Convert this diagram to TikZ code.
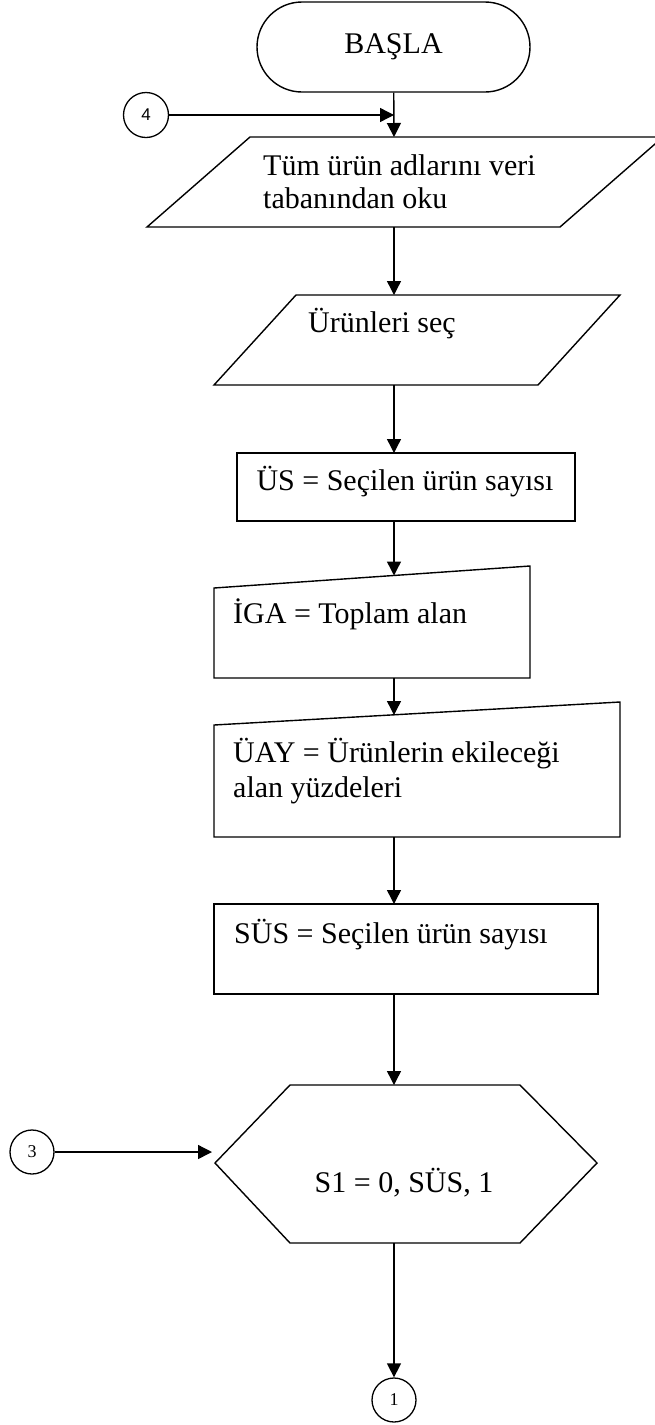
\documentclass[tikz,border=0pt]{standalone}
\usepackage{fontspec}
\setmainfont{Liberation Serif}
\newfontfamily\arialf{Liberation Sans}
\usetikzlibrary{arrows.meta}
\tikzset{
  shp/.style={draw, line width=1.4pt, line join=miter},
  arr/.style={-{Triangle[length=14pt,width=14pt]}, line width=1.4pt},
  conn/.style={circle, draw, line width=1.3pt, minimum size=45pt, inner sep=0pt},
  txt/.style={font=\fontsize{30}{34.5}\selectfont, anchor=base west, inner sep=0pt},
  ctxt/.style={font=\fontsize{30}{34.5}\selectfont, anchor=base, inner sep=0pt}
}
\begin{document}
\begin{tikzpicture}[x=1pt,y=-1pt]
\useasboundingbox (0,0) rectangle (654,1425);
% start
\node[shp, rounded corners=45pt, minimum width=273pt, minimum height=90pt, inner sep=0pt,
      font=\fontsize{30}{34.5}\selectfont] (basla) at (393.5,47) {BAŞLA};
% connector 4
\node[conn, font=\arialf\fontsize{17}{20}\selectfont] (c4) at (146,115) {4};
\coordinate (j4) at (394,115);
% parallelogram 1
\draw[shp] (250,137) -- (663,137) -- (560,227) -- (147,227) -- cycle;
\coordinate (p1t) at (394,137);
\coordinate (p1b) at (394,227);
\node[txt] (t1a) at (263,175) {Tüm ürün adlarını veri};
\node[txt] (t1b) at (263,208) {tabanından oku};
% parallelogram 2
\draw[shp] (296,295) -- (620,295) -- (538,385) -- (214,385) -- cycle;
\coordinate (p2t) at (394,295);
\coordinate (p2b) at (394,385);
\node[txt] (t2) at (308,332) {Ürünleri seç};
% rectangle US
\draw[shp] (237,453) rectangle (575,521);
\coordinate (ust) at (394,453);
\coordinate (usb) at (394,521);
\node[ctxt] (t3) at (405,490) {ÜS = Seçilen ürün sayısı};
% manual input IGA
\draw[shp] (214,588) -- (530,566) -- (530,678) -- (214,678) -- cycle;
\coordinate (igat) at (394,575.5);
\coordinate (igab) at (394,678);
\node[txt] (t4) at (233,623) {İGA = Toplam alan};
% manual input UAY
\draw[shp] (214,725) -- (620,702) -- (620,837) -- (214,837) -- cycle;
\coordinate (uayt) at (394,715);
\coordinate (uayb) at (394,837);
\node[txt] (t5a) at (233,762) {ÜAY = Ürünlerin ekileceği};
\node[txt] (t5b) at (233,797) {alan yüzdeleri};
% rectangle SUS
\draw[shp] (214,904) rectangle (598,994);
\coordinate (sust) at (394,904);
\coordinate (susb) at (394,994);
\node[txt] (t6) at (234,943) {SÜS = Seçilen ürün sayısı};
% hexagon
\draw[shp] (290,1085) -- (520,1085) -- (597,1163) -- (520,1243) -- (290,1243) -- (215,1163) -- cycle;
\coordinate (hext) at (394,1085);
\coordinate (hexb) at (394,1243);
\coordinate (hexl) at (212,1152);
\node[ctxt] (t7) at (404,1192) {S1 = 0, SÜS, 1};
% connectors 3 and 1
\node[conn, minimum size=44pt, font=\fontsize{18}{21}\selectfont] (c3) at (32,1152) {3};
\node[conn, minimum size=44pt, font=\fontsize{18}{21}\selectfont] (c1) at (394,1400) {1};
% arrows
\draw[arr] (c4) -- (j4);
\draw[arr] (basla) -- (p1t);
\draw[arr] (p1b) -- (p2t);
\draw[arr] (p2b) -- (ust);
\draw[arr] (usb) -- (igat);
\draw[arr] (igab) -- (uayt);
\draw[arr] (uayb) -- (sust);
\draw[arr] (susb) -- (hext);
\draw[arr] (c3) -- (hexl);
\draw[arr] (hexb) -- (c1);
\end{tikzpicture}
\end{document}
